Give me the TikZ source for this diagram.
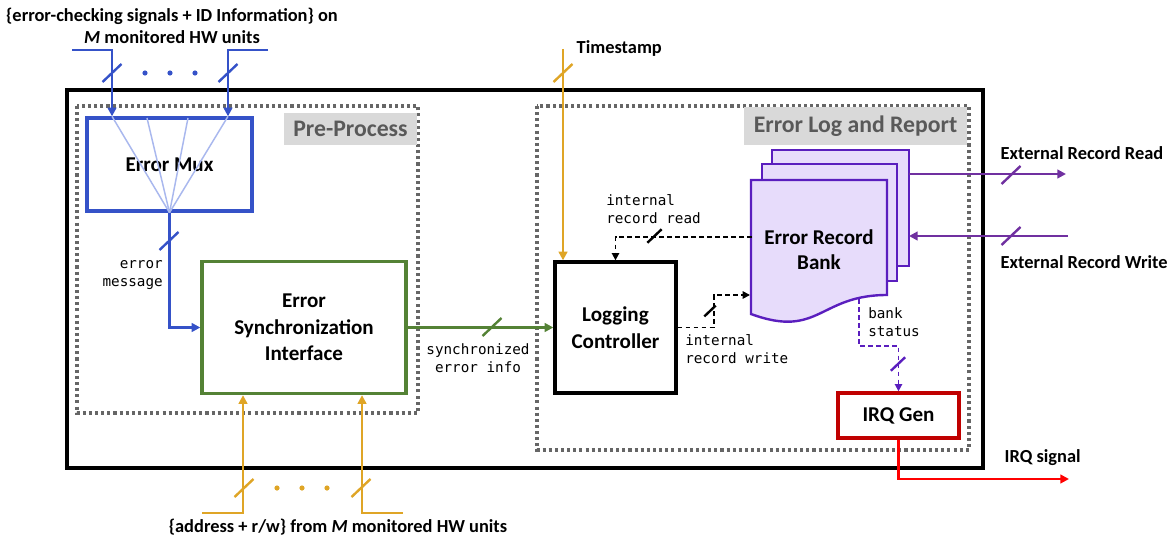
\documentclass[tikz,border=0pt]{standalone}
\usepackage{fontspec}
\setmainfont{Carlito}
\newfontfamily\codefont{DejaVu Sans Mono}
\usetikzlibrary{arrows.meta}

\definecolor{muxblue}{HTML}{3552C8}
\definecolor{fanblue}{HTML}{A9B8EE}
\definecolor{syncgreen}{HTML}{548235}
\definecolor{stampgold}{HTML}{DFA526}
\definecolor{bankpurple}{HTML}{5A1EBE}
\definecolor{bankfill}{HTML}{E7DCFB}
\definecolor{linkpurple}{HTML}{7030A0}
\definecolor{irqdark}{HTML}{C00000}
\definecolor{irqred}{HTML}{FF0000}
\definecolor{tagfill}{HTML}{D9D9D9}
\definecolor{tagtext}{HTML}{595959}
\definecolor{framegray}{HTML}{666666}

\tikzset{
  blocktext/.style={font=\fontsize{15.8}{20}\selectfont\bfseries, align=center},
  block/.style={draw, line width=2.5pt, fill=white, blocktext, inner sep=0pt},
  sigtext/.style={font=\fontsize{13.8}{16.5}\selectfont\bfseries},
  codetext/.style={font=\codefont\fontsize{10.7}{13.6}\selectfont, inner sep=0pt},
  tag/.style={fill=tagfill, text=tagtext, font=\fontsize{17.8}{20}\selectfont\bfseries, inner sep=0pt},
  region/.style={draw=framegray, line width=2.6pt, dash pattern=on 2.3pt off 2.3pt},
  wire/.style={line width=1.8pt, -{Triangle[length=6.5pt,width=6.5pt]}},
  dashwire/.style={line width=1.3pt, dash pattern=on 3.5pt off 2.5pt, -{Triangle[length=5.5pt,width=5.5pt]}},
  fanline/.style={draw=fanblue, line width=1.1pt},
  busmark/.pic={\draw[pic actions, line width=1.8pt] (-9.5,9) -- (9.5,-9);},
  page/.style={draw=bankpurple, fill=bankfill, line width=1.8pt},
}

\begin{document}
\begin{tikzpicture}[x=0.75pt, y=-0.75pt]
\useasboundingbox (0,0) rectangle (1170,542);

% enclosing unit and its two regions
\draw[line width=2.5pt] (67,90) rectangle (983,468);
\draw[region] (77,106) rectangle (418,413);
\draw[region] (537,106) rectangle (969,450);
\node[tag, minimum width=99.75pt, minimum height=24pt] (pretag) at (350.5,129) {Pre-Process};
\node[tag, minimum width=167.25pt, minimum height=28.5pt] (logtag) at (855.5,126) {Error Log and Report};

% blocks
\node[block, draw=muxblue, minimum width=123.75pt, minimum height=69.75pt] (mux) at (169.5,164.5) {Error Mux};
\node[block, draw=syncgreen, minimum width=153pt, minimum height=99pt] (esi) at (304,327.5) {Error\\Synchronization\\Interface};
\node[block, draw=black, minimum width=90.75pt, minimum height=98.25pt] (lc) at (615.5,327.5) {Logging\\Controller};
\node[block, draw=irqdark, minimum width=90.75pt, minimum height=33.75pt] (irq) at (898.5,415.5) {IRQ Gen};

% error record bank: a stack of three pages
\draw[page] (772,150) rectangle (909,266);
\draw[page] (762,164) rectangle (897,281);
\draw[page] (751,180) -- (887,180) -- (887,295)
  .. controls (819,295) and (819,339) .. (751,314) -- cycle;
\node[blocktext, font=\fontsize{15.8}{19}\selectfont\bfseries] (bank) at (819,249.5) {Error Record\\Bank};
\coordinate (bank-w) at (752,237);
\coordinate (bank-iw) at (750,295);
\coordinate (bank-s) at (859,299);
\coordinate (bank-er) at (909,174);
\coordinate (bank-ew) at (909,236);

% error-checking inputs into the mux
\coordinate (ina) at (72,50);
\coordinate (inb) at (268,50);
\coordinate (kneea) at (112,50);
\coordinate (kneeb) at (228,50);
\coordinate (fanb) at (147,118);
\coordinate (fanc) at (188,118);
\draw[wire, draw=muxblue] (ina) -- (kneea) -- (kneea |- mux.north);
\draw[wire, draw=muxblue] (inb) -- (kneeb) -- (kneeb |- mux.north);
\draw[fanline] (mux.south) -- (kneea |- mux.north);
\draw[fanline] (mux.south) -- (fanb);
\draw[fanline] (mux.south) -- (fanc);
\draw[fanline] (mux.south) -- (kneeb |- mux.north);
\pic[draw=muxblue] at (112,73) {busmark};
\pic[draw=muxblue] at (228,73) {busmark};
\foreach \x in {145,170,195} \fill[muxblue] (\x,73) circle (2.6);
\node[sigtext, align=center] (inlabel) at (172,26) {\{error-checking signals + ID Information\} on\\\textit{M} monitored HW units};

% error message into the synchronization interface
\draw[wire, draw=muxblue] (mux.south) |- (esi.west);
\pic[draw=muxblue] at (169,241) {busmark};
\node[codetext, anchor=east, align=right] (msglabel) at (163,275) {error\\message};

% address inputs into the synchronization interface
\coordinate (adda) at (202,513);
\coordinate (kneec) at (243,513);
\coordinate (addb) at (403,513);
\coordinate (kneed) at (362,513);
\draw[wire, draw=stampgold] (adda) -- (kneec) -- (kneec |- esi.south);
\draw[wire, draw=stampgold] (addb) -- (kneed) -- (kneed |- esi.south);
\pic[draw=stampgold] at (244,488) {busmark};
\pic[draw=stampgold] at (361,488) {busmark};
\foreach \x in {277,302,327} \fill[stampgold] (\x,488) circle (2.6);
\node[sigtext] (addrlabel) at (338,527) {\{address + r/w\} from \textit{M} monitored HW units};

% synchronized error info
\draw[wire, draw=syncgreen] (esi.east) -- (lc.west);
\pic[draw=syncgreen] at (492,327) {busmark};
\node[codetext, align=center] (synclabel) at (478,358) {synchronized\\error info};

% timestamp
\coordinate (ts) at (563,49);
\draw[wire, draw=stampgold] (ts) -- (ts |- lc.north);
\pic[draw=stampgold] at (563,73) {busmark};
\node[sigtext, anchor=west] (tslabel) at (572,48) {Timestamp};

% internal record read / write
\draw[dashwire] (bank-w) -| (lc.north);
\pic[draw=black, scale=0.75] at (654.5,236) {busmark};
\node[codetext, anchor=west, align=left] (irdlabel) at (606,209) {internal\\record read};
\draw[dashwire] (lc.east) -- ++(36,0) |- (bank-iw);
\pic[draw=black, scale=0.6] at (710,311) {busmark};
\node[codetext, anchor=west, align=left] (iwrlabel) at (685,349.5) {internal\\record write};

% external record read / write
\coordinate (extr) at (1066,174);
\coordinate (extw) at (1068,236);
\draw[wire, draw=linkpurple] (bank-er) -- (extr);
\draw[wire, draw=linkpurple] (extw) -- (bank-ew);
\pic[draw=linkpurple] at (1011,175) {busmark};
\pic[draw=linkpurple] at (1011,236) {busmark};
\node[sigtext, anchor=west] (erlabel) at (996,153) {External Record Read};
\node[sigtext, anchor=west] (ewlabel) at (996,262) {External Record Write};

% bank status to the IRQ generator
\draw[dashwire, draw=bankpurple] (bank-s) -- (859,346) -| (irq.north);
\pic[draw=bankpurple, scale=0.75] at (898,364) {busmark};
\node[codetext, anchor=west, align=left] (bslabel) at (868,322.5) {bank\\status};

% IRQ signal out
\coordinate (irqout) at (1069,479);
\draw[wire, draw=irqred] (irq.south) |- (irqout);
\node[sigtext, anchor=west] (irqlabel) at (1000,458) {IRQ signal};
\end{tikzpicture}
\end{document}
